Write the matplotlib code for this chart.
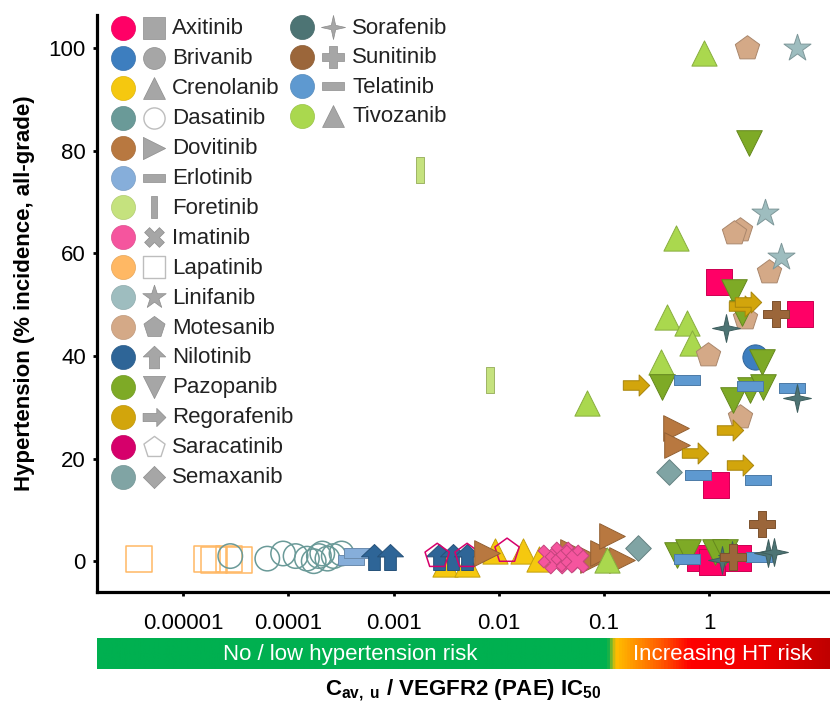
import numpy as np
import matplotlib
matplotlib.use("Agg")
import matplotlib.pyplot as plt
from matplotlib.path import Path
from matplotlib.colors import LinearSegmentedColormap, to_rgb

plt.rcParams["font.family"] = ["Liberation Sans", "DejaVu Sans"]
plt.rcParams["mathtext.fontset"] = "custom"
plt.rcParams["mathtext.rm"] = "Liberation Sans"
plt.rcParams["mathtext.bf"] = "Liberation Sans:bold"
plt.rcParams["mathtext.it"] = "Liberation Sans:italic"

# Cav,u / IC50 ratio (x) and hypertension incidence in % (y) per drug
axitinib_x = [1.23, 7.4, 1.17, 0.82, 1.07, 1.88]
axitinib_y = [54.4, 48.1, 14.8, 0.6, -0.2, 0.6]
brivanib_x = [2.75]
brivanib_y = [39.8]
crenolanib_x = [0.0031, 0.0050, 0.0093, 0.017, 0.024]
crenolanib_y = [-0.5, -0.5, 2.0, 2.0, 0.5]
dasatinib_x = [2.8e-5, 6.3e-5, 8.9e-5, 1.17e-4, 1.5e-4, 1.74e-4, 1.95e-4,
               2.1e-4, 2.35e-4, 2.7e-4, 3.2e-4]
dasatinib_y = [1.0, 0.5, 1.5, 1.0, 0.5, 0.0, 1.0, 1.5, 0.5, 1.0, 1.5]
dovitinib_x = [0.0078, 0.051, 0.079, 0.098, 0.12, 0.148, 0.48, 0.50]
dovitinib_y = [1.5, 1.7, 0.2, 1.5, 5.0, 0.2, 26.0, 22.6]
erlotinib_x = [3.9e-4, 4.5e-4]
erlotinib_y = [0.2, 1.5]
foretinib_x = [0.0018, 0.0083]
foretinib_y = [76.2, 35.3]
imatinib_x = [0.030, 0.035, 0.040, 0.045, 0.050, 0.056]
imatinib_y = [1.0, -0.2, 1.6, 0.2, 1.0, 0.0]
lapatinib_x = [3.8e-6, 1.7e-5, 1.95e-5, 2.75e-5, 3.4e-5]
lapatinib_y = [0.5, 0.5, 0.3, 0.5, 0.3]
linifanib_x = [6.8, 3.4, 4.8]
linifanib_y = [100.0, 67.8, 59.3]
motesanib_x = [2.29, 1.95, 1.74, 3.7, 0.98, 2.19, 1.95]
motesanib_y = [100.0, 64.5, 64.0, 56.3, 40.2, 47.4, 28.0]
nilotinib_x = [6.5e-4, 9.3e-4, 0.0027, 0.0037, 0.0050]
nilotinib_y = [0.8, 0.8, 0.8, 0.8, 0.8]
pazopanib_x = [2.4, 1.74, 2.04, 3.16, 2.45, 3.24, 1.7, 0.355,
               0.50, 0.63, 1.15, 1.41]
pazopanib_y = [81.4, 52.4, 48.3, 38.8, 33.3, 34.0, 31.4, 34.0,
               1.2, 1.8, 1.7, 1.7]
regorafenib_x = [2.04, 2.34, 0.20, 0.74, 1.58, 1.95]
regorafenib_y = [49.7, 50.5, 34.3, 21.0, 25.5, 18.7]
saracatinib_x = [0.0026, 0.0050, 0.012]
saracatinib_y = [1.0, 1.0, 2.0]
semaxanib_x = [0.21, 0.42]
semaxanib_y = [2.5, 17.3]
sorafenib_x = [1.45, 6.8, 1.66, 3.6, 4.1, 1.32]
sorafenib_y = [45.4, 31.8, 1.2, 1.5, 1.8, 0.2]
sunitinib_x = [4.3, 3.16, 1.7]
sunitinib_y = [48.1, 7.2, 0.8]
telatinib_x = [0.62, 2.45, 6.2, 0.79, 2.95, 0.62, 3.0]
telatinib_y = [35.3, 34.1, 33.7, 16.8, 15.8, 0.4, 0.8]
tivozanib_x = [0.89, 0.49, 0.40, 0.62, 0.69, 0.35, 0.069, 0.107]
tivozanib_y = [99.0, 63.0, 47.6, 46.4, 42.5, 38.8, 30.8, 0.2]

x_ticks = [1e-5, 1e-4, 1e-3, 1e-2, 0.1, 1]
x_tick_labels = ["0.00001", "0.0001", "0.001", "0.01", "0.1", "1"]
y_ticks = [0, 20, 40, 60, 80, 100]


def poly(pts):
    return Path(pts + [pts[0]], closed=True)


h_bar = poly([(-1, -0.35), (1, -0.35), (1, 0.35), (-1, 0.35)])
v_bar = poly([(-0.32, -1), (0.32, -1), (0.32, 1), (-0.32, 1)])
up_arrow = poly([(0, 1), (1, 0.05), (0.45, 0.05), (0.45, -1), (-0.45, -1),
                 (-0.45, 0.05), (-1, 0.05)])
right_arrow = poly([(-1, 0.36), (0.2, 0.36), (0.2, 0.8), (1, 0), (0.2, -0.8),
                    (0.2, -0.36), (-1, -0.36)])
four_star = poly([(0, 1), (0.18, 0.18), (1, 0), (0.18, -0.18), (0, -1),
                  (-0.18, -0.18), (-1, 0), (-0.18, 0.18)])

# name: (x, y, colour, marker, size, hollow)
drugs = {
    "Axitinib": (axitinib_x, axitinib_y, "#FF0066", "s", 350, False),
    "Brivanib": (brivanib_x, brivanib_y, "#3D7EBF", "o", 330, False),
    "Crenolanib": (crenolanib_x, crenolanib_y, "#F5C80F", "^", 330, False),
    "Dasatinib": (dasatinib_x, dasatinib_y, "#6A9A98", "o", 310, True),
    "Dovitinib": (dovitinib_x, dovitinib_y, "#B87840", ">", 340, False),
    "Erlotinib": (erlotinib_x, erlotinib_y, "#86AEDA", h_bar, 360, False),
    "Foretinib": (foretinib_x, foretinib_y, "#C5E27E", v_bar, 330, False),
    "Imatinib": (imatinib_x, imatinib_y, "#F5559E", "X", 270, False),
    "Lapatinib": (lapatinib_x, lapatinib_y, "#FFB864", "s", 350, True),
    "Linifanib": (linifanib_x, linifanib_y, "#9EBDBF", "*", 420, False),
    "Motesanib": (motesanib_x, motesanib_y, "#D4A987", "p", 340, False),
    "Nilotinib": (nilotinib_x, nilotinib_y, "#2E6597", up_arrow, 350, False),
    "Pazopanib": (pazopanib_x, pazopanib_y, "#7EAA26", "v", 340, False),
    "Regorafenib": (regorafenib_x, regorafenib_y, "#D2A50C", right_arrow, 360, False),
    "Saracatinib": (saracatinib_x, saracatinib_y, "#D6006B", "p", 340, True),
    "Semaxanib": (semaxanib_x, semaxanib_y, "#80A4A4", "D", 170, False),
    "Sorafenib": (sorafenib_x, sorafenib_y, "#4D7474", four_star, 400, False),
    "Sunitinib": (sunitinib_x, sunitinib_y, "#9B663A", "P", 350, False),
    "Telatinib": (telatinib_x, telatinib_y, "#5E99D0", h_bar, 360, False),
    "Tivozanib": (tivozanib_x, tivozanib_y, "#AAD84E", "^", 330, False),
}

draw_order = ["Lapatinib", "Dasatinib", "Erlotinib", "Crenolanib", "Nilotinib",
              "Saracatinib", "Dovitinib", "Imatinib", "Tivozanib", "Semaxanib",
              "Foretinib", "Brivanib", "Motesanib", "Linifanib", "Axitinib",
              "Pazopanib", "Regorafenib", "Telatinib", "Sorafenib", "Sunitinib"]


def darker(c, f=0.8):
    return tuple(v * f for v in to_rgb(c))


def mark(ax, x, y, marker, color, size, hollow, **kw):
    if hollow:
        ax.scatter(x, y, marker=marker, s=size, facecolors="none",
                   edgecolors=color, linewidths=1.1, **kw)
    else:
        ax.scatter(x, y, marker=marker, s=size, c=[color],
                   edgecolors=[darker(color)], linewidths=0.7, **kw)


fig = plt.figure(figsize=(8.3, 7.03), dpi=100)
ax = fig.add_axes([97 / 830, 111 / 703, 733 / 830, 577 / 703])

for name in draw_order:
    x, y, color, marker, size, hollow = drugs[name]
    mark(ax, x, y, marker, color, size, hollow)

ax.set_xscale("log")
ax.set_xlim(10 ** -5.82, 10 ** 1.15)
ax.set_ylim(-6.0, 106.4)
ax.set_xticks(x_ticks)
ax.set_xticklabels(x_tick_labels)
ax.minorticks_off()
ax.set_yticks(y_ticks)
ax.tick_params(axis="both", direction="out", length=3, width=2, labelsize=16)
ax.tick_params(axis="x", pad=12)
ax.tick_params(axis="y", pad=5)
for side in ["top", "right"]:
    ax.spines[side].set_visible(False)
for side in ["left", "bottom"]:
    ax.spines[side].set_linewidth(2.3)

ax.set_ylabel("Hypertension (% incidence, all-grade)", fontsize=16,
              fontweight="bold")
ax.yaxis.set_label_coords(-0.085, 0.518)

# two-column key: coloured dot, grey shape, drug name
names = list(drugs)
col1, col2 = names[:16], names[16:]
gray = "#A6A6A6"


def px(x, y):
    return (x - 97) / 733, (592 - y) / 577


for col, (cx, mx, tx, y0, dy) in [(col1, (123, 154, 172, 28, 29.9)),
                                  (col2, (302, 333, 352, 27, 29.6))]:
    for i, name in enumerate(col):
        _, _, color, marker, size, hollow = drugs[name]
        yy = y0 + i * dy
        ax.scatter(*px(cx, yy), marker="o", s=300, c=[color],
                   edgecolors=[darker(color, 0.9)], linewidths=0.5,
                   transform=ax.transAxes, clip_on=False, zorder=5)
        if hollow:
            ax.scatter(*px(mx, yy), marker=marker, s=size * 0.75,
                       facecolors="white", edgecolors="#BDBDBD",
                       linewidths=1.0, transform=ax.transAxes,
                       clip_on=False, zorder=5)
        else:
            ax.scatter(*px(mx, yy), marker=marker, s=size * 0.75, c=[gray],
                       edgecolors=["#8C8C8C"], linewidths=0.5,
                       transform=ax.transAxes, clip_on=False, zorder=5)
        tpx, tpy = px(tx, yy + 1)
        ax.text(tpx, tpy, name, transform=ax.transAxes, fontsize=16,
                va="center", ha="left", color="#222222")

# risk band under the axis
band = fig.add_axes([97 / 830, 34 / 703, 733 / 830, 31 / 703])
risk_cmap = LinearSegmentedColormap.from_list("risk", [
    (0.0, "#00B050"), (0.697, "#00B050"), (0.708, "#FFBE00"),
    (0.77, "#FF5A00"), (0.81, "#FF0000"), (0.905, "#EE0000"),
    (1.0, "#C00000")])
band.imshow(np.linspace(0, 1, 800).reshape(1, -1), cmap=risk_cmap,
            aspect="auto", extent=[0, 1, 0, 1])
band.set_xlim(0, 1)
band.set_ylim(0, 1)
band.axis("off")
band.text(0.345, 0.48, "No / low hypertension risk", color="white",
          fontsize=16, ha="center", va="center")
band.text(0.853, 0.48, "Increasing HT risk", color="white",
          fontsize=16, ha="center", va="center")

fig.text(463 / 830, 1 - 690 / 703,
         r"$\mathbf{C_{av,\ u}}$ / VEGFR2 (PAE) IC$\mathbf{_{50}}$",
         fontsize=16, fontweight="bold", ha="center", va="center")

fig.savefig("out.png", dpi=100)
